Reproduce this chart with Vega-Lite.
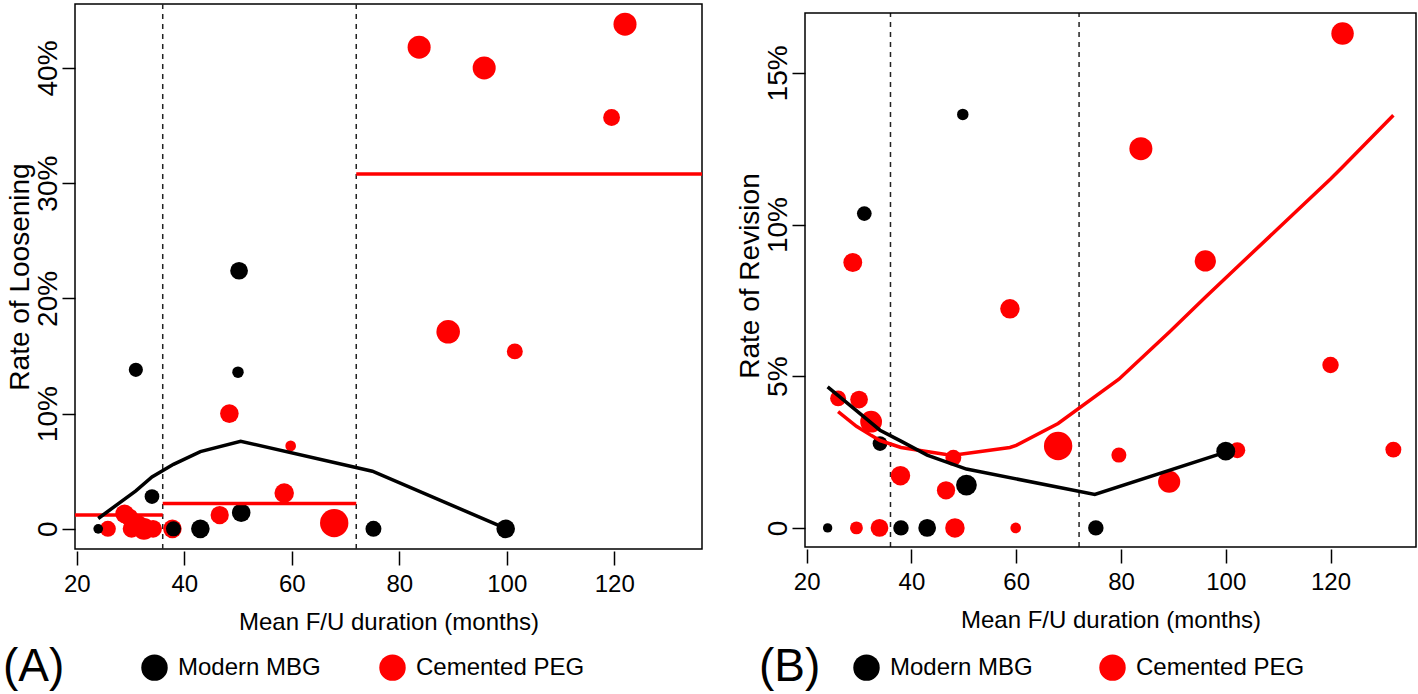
{
  "$schema": "https://vega.github.io/schema/vega-lite/v6.json",
  "padding": {"left": 2, "top": 2, "right": 2, "bottom": 0},
  "background": "white",
  "config": {
    "font": "Liberation Sans",
    "view": {"stroke": "#000000", "strokeWidth": 1.5},
    "axis": {"grid": false, "domain": false, "tickColor": "#000000", "tickWidth": 1.5, "labelColor": "#000000", "titleColor": "#000000", "titleFontWeight": "normal", "labelFont": "Liberation Sans", "titleFont": "Liberation Sans"},
    "axisX": {"tickSize": 14, "offset": 2, "labelPadding": 7, "titlePadding": 14, "labelFontSize": 24, "titleFontSize": 24},
    "axisY": {"tickSize": 13, "labelAngle": -90, "labelAlign": "center", "labelBaseline": "alphabetic", "labelPadding": 6, "titlePadding": 0, "labelFontSize": 28, "titleFontSize": 28},
    "legend": {"labelFont": "Liberation Sans", "titleFont": "Liberation Sans"}
  },
  "datasets": {
    "cuts": [{"months": 36}, {"months": 72}],
    "frame_b": [{"xmin": 19.68, "xmax": 136.32, "ymin": -0.63, "ymax": 16.97}],
    "loosening_points": [
      {"group": "Cemented PEG", "months": 25.8, "rate": 0, "n": 81},
      {"group": "Cemented PEG", "months": 28.9, "rate": 1.3, "n": 110},
      {"group": "Cemented PEG", "months": 29.8, "rate": 1.0, "n": 100},
      {"group": "Cemented PEG", "months": 30.2, "rate": 0, "n": 100},
      {"group": "Cemented PEG", "months": 31.5, "rate": 0.4, "n": 100},
      {"group": "Cemented PEG", "months": 32.5, "rate": 0, "n": 151},
      {"group": "Cemented PEG", "months": 34.2, "rate": 0, "n": 100},
      {"group": "Cemented PEG", "months": 37.8, "rate": 0, "n": 110},
      {"group": "Cemented PEG", "months": 46.6, "rate": 1.2, "n": 106},
      {"group": "Cemented PEG", "months": 48.4, "rate": 10.0, "n": 110},
      {"group": "Cemented PEG", "months": 58.6, "rate": 3.1, "n": 121},
      {"group": "Cemented PEG", "months": 59.8, "rate": 7.2, "n": 36},
      {"group": "Cemented PEG", "months": 67.9, "rate": 0.5, "n": 256},
      {"group": "Cemented PEG", "months": 83.7, "rate": 41.8, "n": 169},
      {"group": "Cemented PEG", "months": 89.1, "rate": 17.1, "n": 177},
      {"group": "Cemented PEG", "months": 95.8, "rate": 40.0, "n": 169},
      {"group": "Cemented PEG", "months": 101.5, "rate": 15.4, "n": 81},
      {"group": "Cemented PEG", "months": 119.5, "rate": 35.7, "n": 90},
      {"group": "Cemented PEG", "months": 122.0, "rate": 43.8, "n": 169},
      {"group": "Modern MBG", "months": 24.0, "rate": 0, "n": 30},
      {"group": "Modern MBG", "months": 31.0, "rate": 13.8, "n": 64},
      {"group": "Modern MBG", "months": 34.0, "rate": 2.8, "n": 69},
      {"group": "Modern MBG", "months": 38.0, "rate": 0, "n": 72},
      {"group": "Modern MBG", "months": 43.0, "rate": 0, "n": 110},
      {"group": "Modern MBG", "months": 50.2, "rate": 22.4, "n": 100},
      {"group": "Modern MBG", "months": 50.0, "rate": 13.6, "n": 42},
      {"group": "Modern MBG", "months": 50.6, "rate": 1.4, "n": 110},
      {"group": "Modern MBG", "months": 75.2, "rate": 0, "n": 81},
      {"group": "Modern MBG", "months": 99.8, "rate": 0, "n": 110}
    ],
    "loosening_fit": [
      {"months": 24, "rate": 0.9},
      {"months": 31, "rate": 3.3},
      {"months": 34, "rate": 4.5},
      {"months": 38, "rate": 5.6},
      {"months": 43, "rate": 6.7},
      {"months": 50.5, "rate": 7.6},
      {"months": 75, "rate": 5.0},
      {"months": 100, "rate": 0}
    ],
    "loosening_means": [
      {"months": 19.68, "months_end": 36, "rate": 1.2},
      {"months": 36, "months_end": 72, "rate": 2.2},
      {"months": 72, "months_end": 136.32, "rate": 30.8}
    ],
    "revision_points": [
      {"group": "Cemented PEG", "months": 26.0, "rate": 4.27, "n": 81},
      {"group": "Cemented PEG", "months": 28.8, "rate": 8.75, "n": 114},
      {"group": "Cemented PEG", "months": 29.5, "rate": 0, "n": 53},
      {"group": "Cemented PEG", "months": 30.0, "rate": 4.23, "n": 100},
      {"group": "Cemented PEG", "months": 32.3, "rate": 3.5, "n": 151},
      {"group": "Cemented PEG", "months": 33.9, "rate": 0, "n": 100},
      {"group": "Cemented PEG", "months": 37.9, "rate": 1.72, "n": 121},
      {"group": "Cemented PEG", "months": 46.6, "rate": 1.24, "n": 106},
      {"group": "Cemented PEG", "months": 48.0, "rate": 2.31, "n": 81},
      {"group": "Cemented PEG", "months": 48.3, "rate": 0, "n": 121},
      {"group": "Cemented PEG", "months": 58.8, "rate": 7.22, "n": 121},
      {"group": "Cemented PEG", "months": 59.9, "rate": 0, "n": 36},
      {"group": "Cemented PEG", "months": 68.0, "rate": 2.7, "n": 256},
      {"group": "Cemented PEG", "months": 79.6, "rate": 2.4, "n": 72},
      {"group": "Cemented PEG", "months": 83.8, "rate": 12.5, "n": 169},
      {"group": "Cemented PEG", "months": 89.2, "rate": 1.52, "n": 156},
      {"group": "Cemented PEG", "months": 96.1, "rate": 8.8, "n": 144},
      {"group": "Cemented PEG", "months": 102.2, "rate": 2.56, "n": 81},
      {"group": "Cemented PEG", "months": 120.0, "rate": 5.37, "n": 86},
      {"group": "Cemented PEG", "months": 122.3, "rate": 16.3, "n": 161},
      {"group": "Cemented PEG", "months": 132.0, "rate": 2.58, "n": 81},
      {"group": "Modern MBG", "months": 24.0, "rate": 0, "n": 28},
      {"group": "Modern MBG", "months": 31.0, "rate": 10.36, "n": 69},
      {"group": "Modern MBG", "months": 34.0, "rate": 2.78, "n": 69},
      {"group": "Modern MBG", "months": 38.0, "rate": 0, "n": 76},
      {"group": "Modern MBG", "months": 43.0, "rate": 0, "n": 100},
      {"group": "Modern MBG", "months": 49.8, "rate": 13.63, "n": 42},
      {"group": "Modern MBG", "months": 50.5, "rate": 1.41, "n": 137},
      {"group": "Modern MBG", "months": 75.2, "rate": 0, "n": 76},
      {"group": "Modern MBG", "months": 100.0, "rate": 2.53, "n": 114}
    ],
    "revision_fit": [
      {"group": "Modern MBG", "months": 24, "rate": 4.65},
      {"group": "Modern MBG", "months": 31, "rate": 3.65},
      {"group": "Modern MBG", "months": 34, "rate": 3.22},
      {"group": "Modern MBG", "months": 38, "rate": 2.86},
      {"group": "Modern MBG", "months": 43, "rate": 2.4},
      {"group": "Modern MBG", "months": 50.5, "rate": 1.94},
      {"group": "Modern MBG", "months": 75, "rate": 1.1},
      {"group": "Modern MBG", "months": 100, "rate": 2.5},
      {"group": "Cemented PEG", "months": 26, "rate": 3.83},
      {"group": "Cemented PEG", "months": 29.5, "rate": 3.35},
      {"group": "Cemented PEG", "months": 32.3, "rate": 3.05},
      {"group": "Cemented PEG", "months": 34, "rate": 2.88},
      {"group": "Cemented PEG", "months": 38, "rate": 2.65},
      {"group": "Cemented PEG", "months": 46.6, "rate": 2.42},
      {"group": "Cemented PEG", "months": 48.3, "rate": 2.4},
      {"group": "Cemented PEG", "months": 58.8, "rate": 2.65},
      {"group": "Cemented PEG", "months": 60, "rate": 2.72},
      {"group": "Cemented PEG", "months": 68, "rate": 3.44},
      {"group": "Cemented PEG", "months": 79.6, "rate": 4.9},
      {"group": "Cemented PEG", "months": 89.2, "rate": 6.45},
      {"group": "Cemented PEG", "months": 96.1, "rate": 7.6},
      {"group": "Cemented PEG", "months": 102.2, "rate": 8.6},
      {"group": "Cemented PEG", "months": 120, "rate": 11.5},
      {"group": "Cemented PEG", "months": 122.3, "rate": 11.9},
      {"group": "Cemented PEG", "months": 132, "rate": 13.6}
    ]
  },
  "hconcat": [
    {
      "width": 627,
      "height": 545,
      "encoding": {
        "x": {"field": "months", "type": "quantitative", "scale": {"domain": [19.68, 136.32], "nice": false, "zero": false}, "axis": {"values": [20, 40, 60, 80, 100, 120]}, "title": "Mean F/U duration (months)"}
      },
      "layer": [
        {
          "data": {"name": "cuts"},
          "mark": {"type": "rule", "strokeDash": [5, 5], "strokeWidth": 1.5, "color": "#222222"},
          "encoding": {}
        },
        {
          "data": {"name": "loosening_points"},
          "mark": {"type": "circle", "opacity": 1, "strokeWidth": 0},
          "encoding": {
            "y": {"field": "rate", "type": "quantitative", "scale": {"domain": [-1.75, 45.55], "nice": false, "zero": false}, "axis": {"values": [0, 10, 20, 30, 40], "labelExpr": "datum.value === 0 ? '0' : datum.value + '%'"}, "title": "Rate of Loosening"},
            "size": {"field": "n", "type": "quantitative", "scale": {"type": "linear", "domain": [0, 256], "range": [0, 804]}, "legend": null},
            "color": {"field": "group", "type": "nominal", "scale": {"domain": ["Modern MBG", "Cemented PEG"], "range": ["#000000", "#ff0000"]},
              "legend": {"title": "(A)", "orient": "none", "legendX": -72, "legendY": 650, "direction": "horizontal", "titleOrient": "left", "titleFontSize": 46, "titleFontWeight": "normal", "titleColor": "#000000", "titlePadding": 76, "labelFontSize": 24, "labelColor": "#000000", "symbolSize": 700, "symbolType": "circle", "symbolStrokeWidth": 0, "labelOffset": 10, "columnPadding": 58, "labelLimit": 400, "padding": 0}}
          }
        },
        {
          "data": {"name": "loosening_means"},
          "mark": {"type": "rule", "color": "#ff0000", "strokeWidth": 3.5},
          "encoding": {
            "x2": {"field": "months_end"},
            "y": {"field": "rate", "type": "quantitative"}
          }
        },
        {
          "data": {"name": "loosening_fit"},
          "mark": {"type": "line", "color": "#000000", "strokeWidth": 3.5},
          "encoding": {
            "y": {"field": "rate", "type": "quantitative"}
          }
        }
      ]
    },
    {
      "width": 611,
      "height": 543,
      "view": {"stroke": null},
      "encoding": {
        "x": {"field": "months", "type": "quantitative", "scale": {"domain": [19.68, 136.32], "nice": false, "zero": false}, "axis": {"values": [20, 40, 60, 80, 100, 120]}, "title": "Mean F/U duration (months)"}
      },
      "layer": [
        {
          "data": {"name": "cuts"},
          "mark": {"type": "rule", "strokeDash": [5, 5], "strokeWidth": 1.5, "color": "#222222"},
          "encoding": {
            "y": {"datum": -0.63, "type": "quantitative"},
            "y2": {"datum": 16.97}
          }
        },
        {
          "data": {"name": "revision_points"},
          "mark": {"type": "circle", "opacity": 1, "strokeWidth": 0},
          "encoding": {
            "y": {"field": "rate", "type": "quantitative", "scale": {"domain": [-0.63, 17.27], "nice": false, "zero": false}, "axis": {"values": [0, 5, 10, 15], "labelExpr": "datum.value === 0 ? '0' : datum.value + '%'"}, "title": "Rate of Revision"},
            "size": {"field": "n", "type": "quantitative", "scale": {"type": "linear", "domain": [0, 256], "range": [0, 804]}, "legend": null},
            "color": {"field": "group", "type": "nominal", "scale": {"domain": ["Modern MBG", "Cemented PEG"], "range": ["#000000", "#ff0000"]},
              "legend": {"title": "(B)", "orient": "none", "legendX": -46, "legendY": 650, "direction": "horizontal", "titleOrient": "left", "titleFontSize": 46, "titleFontWeight": "normal", "titleColor": "#000000", "titlePadding": 32, "labelFontSize": 24, "labelColor": "#000000", "symbolSize": 700, "symbolType": "circle", "symbolStrokeWidth": 0, "labelOffset": 10, "columnPadding": 66, "labelLimit": 400, "padding": 0}}
          }
        },
        {
          "data": {"name": "revision_fit"},
          "transform": [{"filter": "datum.group === 'Cemented PEG'"}],
          "mark": {"type": "line", "color": "#ff0000", "strokeWidth": 3.5},
          "encoding": {
            "y": {"field": "rate", "type": "quantitative"}
          }
        },
        {
          "data": {"name": "revision_fit"},
          "transform": [{"filter": "datum.group === 'Modern MBG'"}],
          "mark": {"type": "line", "color": "#000000", "strokeWidth": 3.5},
          "encoding": {
            "y": {"field": "rate", "type": "quantitative"}
          }
        },
        {
          "data": {"name": "frame_b"},
          "mark": {"type": "rect", "filled": false, "color": "#000000", "strokeWidth": 1.5},
          "encoding": {
            "x": {"field": "xmin", "type": "quantitative"},
            "x2": {"field": "xmax"},
            "y": {"field": "ymin", "type": "quantitative"},
            "y2": {"field": "ymax"}
          }
        }
      ]
    }
  ],
  "spacing": 31,
  "resolve": {"scale": {"color": "independent", "size": "independent", "x": "independent", "y": "independent"}, "legend": {"color": "independent"}}
}
